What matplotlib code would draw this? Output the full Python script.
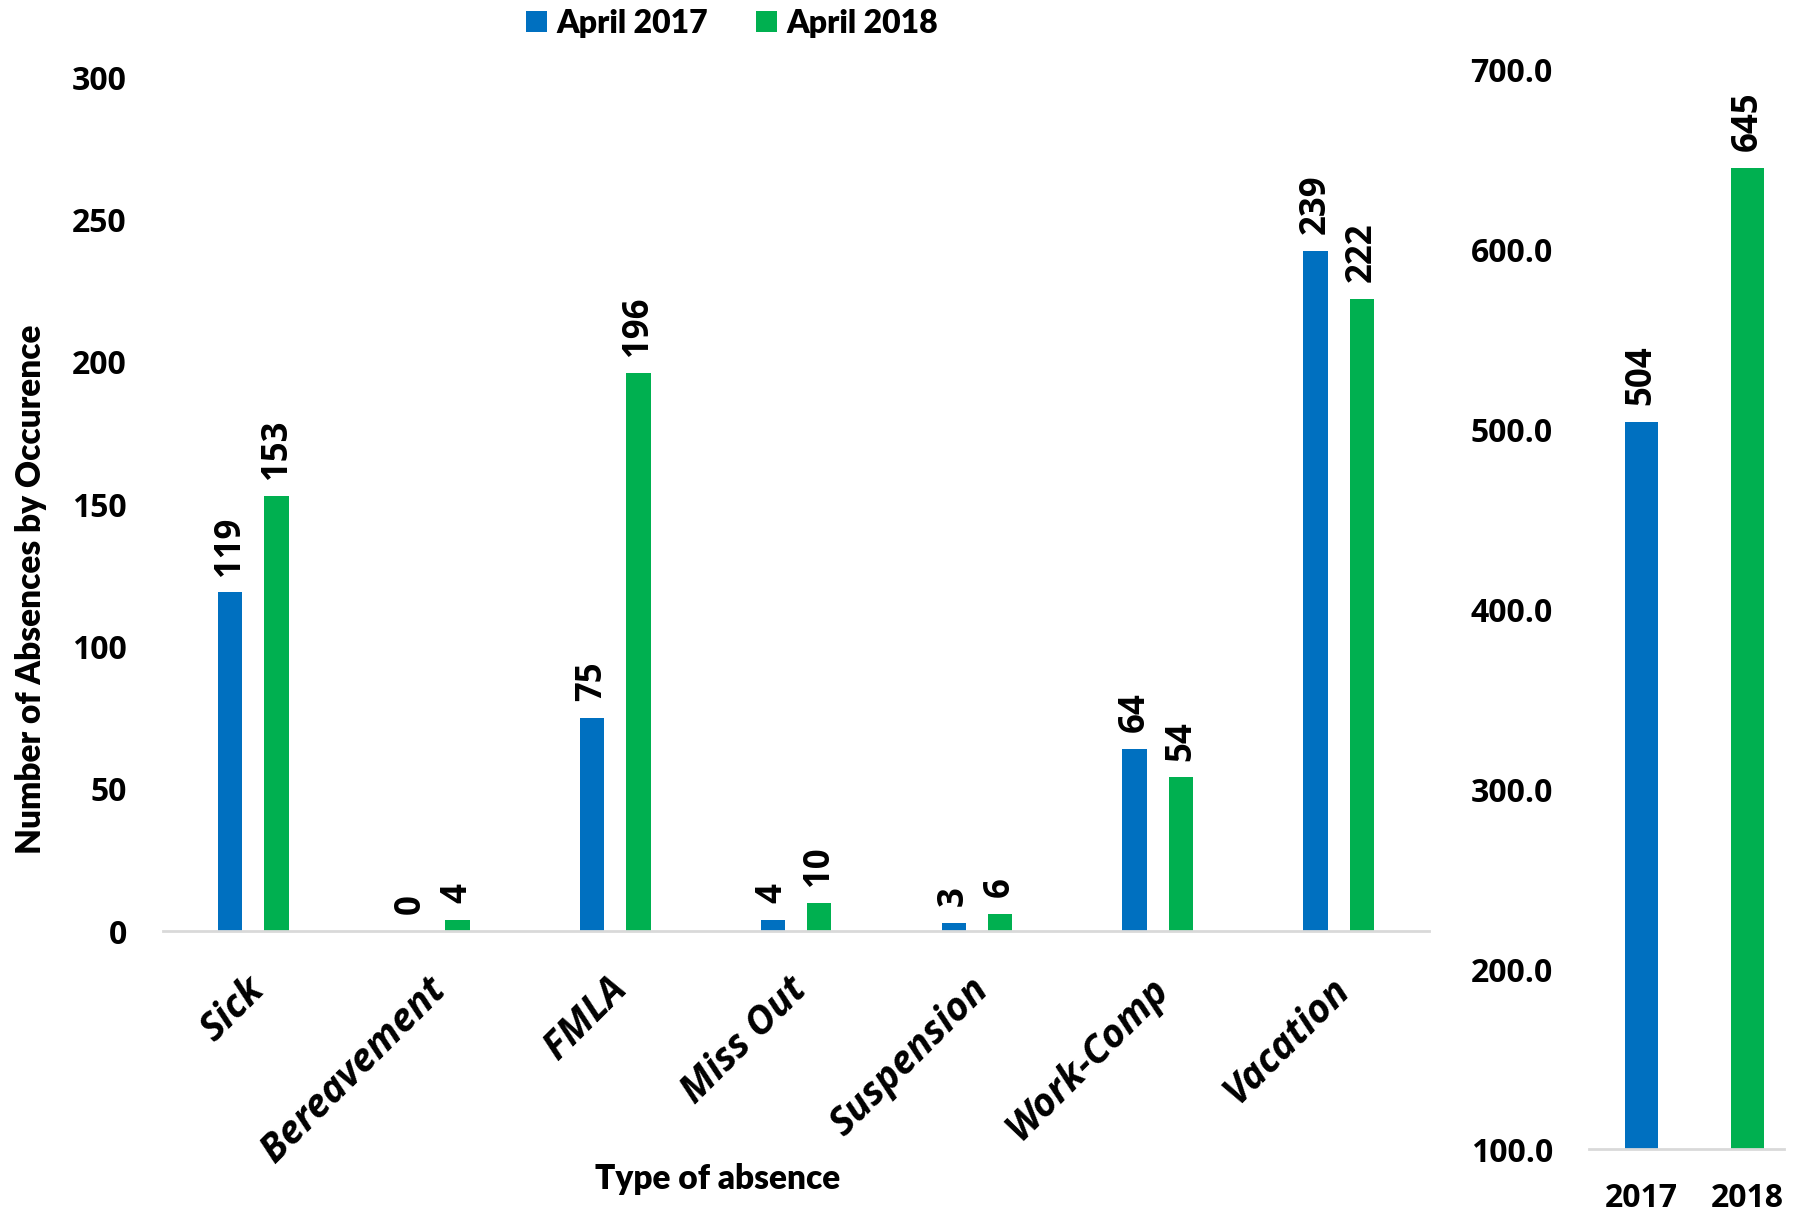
import matplotlib.pyplot as plt
import numpy as np
from matplotlib.ticker import FormatStrFormatter

categories = ["Sick", "Bereavement", "FMLA", "Miss Out", "Suspension", "Work-Comp", "Vacation"]
april_2017 = [119, 0, 75, 4, 3, 64, 239]
april_2018 = [153, 4, 196, 10, 6, 54, 222]

years = ["2017", "2018"]
totals = [504, 645]

blue = "#0070C0"
green = "#00B050"
grey = "#D9D9D9"

plt.rcParams['font.family'] = ['Open Sans', 'DejaVu Sans']
plt.rcParams['font.weight'] = 'bold'
title_font = ["Lato", "DejaVu Sans"]

fig = plt.figure(figsize=(18.03, 12.15), dpi=100)

# main chart
ax = fig.add_axes([0.0904, 0.2337, 0.7022, 0.7029])
x = np.arange(len(categories))
w = 0.135
b1 = ax.bar(x - 0.128, april_2017, w, color=blue, label="April 2017")
b2 = ax.bar(x + 0.128, april_2018, w, color=green, label="April 2018")
for bars in (b1, b2):
    for r in bars:
        ax.annotate(f"{int(r.get_height())}", (r.get_x() + r.get_width() / 2, r.get_height()),
                    xytext=(0, 12), textcoords="offset points", rotation=90,
                    ha="center", va="bottom", fontsize=25, fontweight="bold")

ax.set_xlim(-0.5, 6.5)
ax.set_ylim(0, 300)
ax.set_yticks(range(0, 301, 50))
ax.set_xticks(x)
ax.set_xticklabels([])
# category names, slanted like the spreadsheet
for xi, name in zip(x, categories):
    ax.annotate(name, (xi, 0), xytext=(-6, -28), textcoords="offset points",
                xycoords=ax.get_xaxis_transform(), rotation=45, rotation_mode="anchor",
                ha="right", va="top", fontsize=28, fontweight="bold", fontstyle="italic",
                annotation_clip=False)
ax.tick_params(axis="x", length=0)
ax.tick_params(axis="y", length=0, pad=26, labelsize=23)
for s in ["top", "right", "left"]:
    ax.spines[s].set_visible(False)
ax.spines["bottom"].set_color(grey)
ax.spines["bottom"].set_linewidth(2)

ax.set_ylabel("Number of Absences by Occurence", family=title_font,
              fontsize=24, fontweight="heavy")
ax.set_xlabel("Type of absence", family=title_font, fontsize=24, fontweight="heavy")
ax.xaxis.set_label_coords(0.438, -0.272)
ax.yaxis.set_label_coords(-0.092, 0.40)

leg = fig.legend(handles=[b1, b2], loc="center", bbox_to_anchor=(0.406, 0.981), ncol=2,
                 frameon=False, prop={"family": title_font, "size": 23, "weight": "heavy"},
                 handlelength=0.65, handleheight=0.65, handletextpad=0.3, columnspacing=1.5)

# totals
ax2 = fig.add_axes([0.8813, 0.0543, 0.1082, 0.8889])
xt = np.arange(len(years))
ax2.bar(xt, totals, 0.31, color=[blue, green])
for xi, v in zip(xt, totals):
    ax2.annotate(f"{v}", (xi, v), xytext=(0, 12), textcoords="offset points", rotation=90,
                 ha="center", va="bottom", fontsize=25, fontweight="bold")
ax2.set_xlim(-0.495, 1.344)
ax2.set_ylim(100, 700)
ax2.set_yticks(range(100, 701, 100))
ax2.yaxis.set_major_formatter(FormatStrFormatter("%.1f"))
ax2.set_xticks(xt)
ax2.set_xticklabels(years, fontsize=23, fontweight="bold")
ax2.tick_params(axis="x", length=0, pad=24)
ax2.tick_params(axis="y", length=0, pad=26, labelsize=23)
for s in ["top", "right", "left"]:
    ax2.spines[s].set_visible(False)
ax2.spines["bottom"].set_color(grey)
ax2.spines["bottom"].set_linewidth(2)

fig.savefig("out.png", dpi=100)
